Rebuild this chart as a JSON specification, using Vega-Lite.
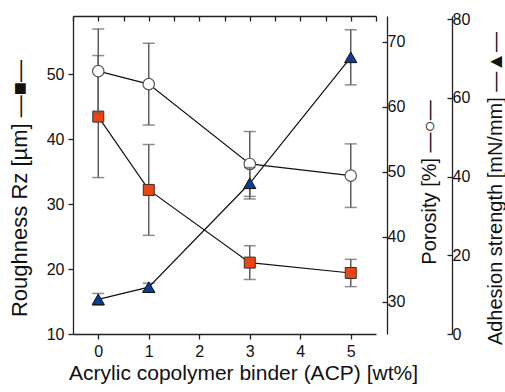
{
  "$schema": "https://vega.github.io/schema/vega-lite/v6.json",
  "width": 303,
  "height": 318,
  "autosize": {"type": "none"},
  "padding": {"left": 73, "top": 16, "right": 129, "bottom": 58},
  "background": "white",
  "config": {
    "font": "Liberation Sans",
    "view": {"stroke": null},
    "axis": {
      "grid": false,
      "domainColor": "#222",
      "tickColor": "#222",
      "labelColor": "#111",
      "titleColor": "#111",
      "labelFontSize": 16,
      "titleFontSize": 20,
      "titleFontWeight": "normal",
      "domainWidth": 1.3,
      "tickWidth": 1.3
    }
  },
  "data": {
    "values": [
      {"acp": 0, "series": "roughness", "value": 43.5, "lo": 34.1, "hi": 52.9},
      {"acp": 1, "series": "roughness", "value": 32.2, "lo": 25.2, "hi": 39.2},
      {"acp": 3, "series": "roughness", "value": 21.0, "lo": 18.4, "hi": 23.6},
      {"acp": 5, "series": "roughness", "value": 19.4, "lo": 17.3, "hi": 21.5},
      {"acp": 0, "series": "porosity", "value": 65.5, "lo": 59.0, "hi": 72.0},
      {"acp": 1, "series": "porosity", "value": 63.5, "lo": 57.2, "hi": 69.8},
      {"acp": 3, "series": "porosity", "value": 51.2, "lo": 46.2, "hi": 56.2},
      {"acp": 5, "series": "porosity", "value": 49.4, "lo": 44.5, "hi": 54.3},
      {"acp": 0, "series": "adhesion", "value": 8.8, "lo": 7.3, "hi": 10.3},
      {"acp": 1, "series": "adhesion", "value": 11.9, "lo": 10.9, "hi": 12.9},
      {"acp": 3, "series": "adhesion", "value": 38.3, "lo": 34.3, "hi": 42.3},
      {"acp": 5, "series": "adhesion", "value": 70.3, "lo": 63.3, "hi": 77.3}
    ]
  },
  "resolve": {"scale": {"y": "independent"}, "axis": {"x": "independent", "y": "independent"}},
  "layer": [
    {
      "transform": [{"filter": "datum.series === 'roughness'"}],
      "encoding": {
        "x": {
          "field": "acp", "type": "quantitative",
          "scale": {"domain": [-0.5, 5.5], "nice": false, "zero": false},
          "axis": {
            "orient": "bottom", "values": [0, 1, 2, 3, 4, 5], "tickSize": 5, "labelPadding": 4,
            "title": "Acrylic copolymer binder (ACP) [wt%]", "titleFontSize": 21, "titlePadding": 3, "titleX": 170
          }
        }
      },
      "layer": [
        {
          "mark": {"type": "errorbar", "color": "#5e5e5e", "thickness": 1.5, "ticks": {"size": 12, "color": "#5e5e5e", "thickness": 1.5}},
          "encoding": {
            "y": {
              "field": "lo", "type": "quantitative", "title": "Roughness Rz [µm] —■—",
              "scale": {"domain": [10, 59], "nice": false, "zero": false},
              "axis": {
                "orient": "left", "values": [10, 15, 20, 25, 30, 35, 40, 45, 50, 55],
                "labelExpr": "datum.value % 10 === 0 ? datum.label : ''",
                "tickSize": 5, "labelPadding": 4, "titleFontSize": 22,
                "titleAngle": 270, "titleBaseline": "middle", "titleX": -54, "titleY": 172
              }
            },
            "y2": {"field": "hi"}
          }
        },
        {
          "mark": {"type": "line", "color": "#111", "strokeWidth": 1.2},
          "encoding": {"y": {"field": "value", "type": "quantitative", "title": "Roughness Rz [µm] —■—"}}
        },
        {
          "mark": {"type": "point", "shape": "square", "filled": true, "fill": "#ee4411", "stroke": "#333", "strokeWidth": 1, "size": 121, "opacity": 1},
          "encoding": {"y": {"field": "value", "type": "quantitative", "title": "Roughness Rz [µm] —■—"}}
        }
      ]
    },
    {
      "transform": [{"filter": "datum.series === 'porosity'"}],
      "encoding": {
        "x": {
          "field": "acp", "type": "quantitative",
          "scale": {"domain": [-0.5, 5.5], "nice": false, "zero": false},
          "axis": {
            "orient": "top", "values": [-0.5, 0, 0.5, 1, 1.5, 2, 2.5, 3, 3.5, 4, 4.5, 5, 5.5],
            "labels": false, "tickSize": -5, "title": null
          }
        }
      },
      "layer": [
        {
          "mark": {"type": "errorbar", "color": "#5e5e5e", "thickness": 1.5, "ticks": {"size": 12, "color": "#5e5e5e", "thickness": 1.5}},
          "encoding": {
            "y": {
              "field": "lo", "type": "quantitative", "title": "Porosity [%] —○—",
              "scale": {"domain": [25, 74], "nice": false, "zero": false},
              "axis": {
                "orient": "right", "offset": 11, "values": [30, 35, 40, 45, 50, 55, 60, 65, 70],
                "labelExpr": "datum.value % 10 === 0 ? datum.label : ''",
                "tickSize": -5, "labelPadding": 5,
                "titleAngle": 270, "titleBaseline": "middle", "titleX": 42, "titleY": 166
              }
            },
            "y2": {"field": "hi"}
          }
        },
        {
          "mark": {"type": "line", "color": "#111", "strokeWidth": 1.2},
          "encoding": {"y": {"field": "value", "type": "quantitative", "title": "Porosity [%] —○—"}}
        },
        {
          "mark": {"type": "point", "shape": "circle", "filled": true, "fill": "white", "stroke": "#555", "strokeWidth": 1.2, "size": 130, "opacity": 1},
          "encoding": {"y": {"field": "value", "type": "quantitative", "title": "Porosity [%] —○—"}}
        }
      ]
    },
    {
      "transform": [{"filter": "datum.series === 'adhesion'"}],
      "encoding": {
        "x": {
          "field": "acp", "type": "quantitative",
          "scale": {"domain": [-0.5, 5.5], "nice": false, "zero": false},
          "axis": null
        }
      },
      "layer": [
        {
          "mark": {"type": "errorbar", "color": "#5e5e5e", "thickness": 1.5, "ticks": {"size": 12, "color": "#5e5e5e", "thickness": 1.5}},
          "encoding": {
            "y": {
              "field": "lo", "type": "quantitative", "title": "Adhesion strength [mN/mm] —▲—",
              "scale": {"domain": [0, 80.8], "nice": false, "zero": false},
              "axis": {
                "orient": "right", "offset": 76, "values": [0, 10, 20, 30, 40, 50, 60, 70, 80],
                "labelExpr": "datum.value % 20 === 0 ? datum.label : ''",
                "tickSize": -5, "labelPadding": 5,
                "titleAngle": 270, "titleBaseline": "middle", "titleX": 43, "titleY": 172
              }
            },
            "y2": {"field": "hi"}
          }
        },
        {
          "mark": {"type": "line", "color": "#111", "strokeWidth": 1.2},
          "encoding": {"y": {"field": "value", "type": "quantitative", "title": "Adhesion strength [mN/mm] —▲—"}}
        },
        {
          "mark": {"type": "point", "shape": "triangle-up", "filled": true, "fill": "#0b3d96", "stroke": "#111", "strokeWidth": 1, "size": 150, "opacity": 1},
          "encoding": {"y": {"field": "value", "type": "quantitative", "title": "Adhesion strength [mN/mm] —▲—"}}
        }
      ]
    }
  ]
}
